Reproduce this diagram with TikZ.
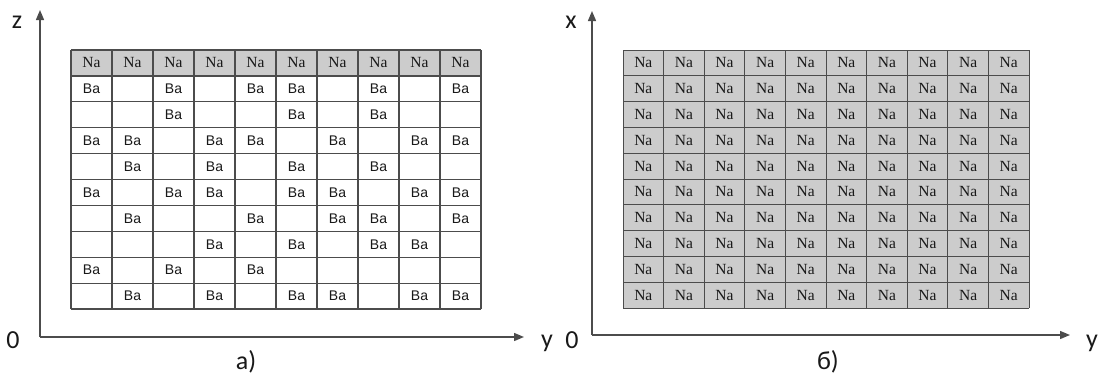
\documentclass[tikz,border=0pt]{standalone}
\usepackage{fontspec}
\setmainfont{Liberation Serif}
\newfontfamily\axfont{Carlito}
\newfontfamily\bafont{Liberation Sans}
\usetikzlibrary{arrows.meta}
\tikzset{
  axisline/.style={line width=1.4pt, draw=black!70, -{Triangle[length=10pt,width=8pt]}},
  axlabel/.style={font=\axfont\fontsize{26}{26}\selectfont, inner sep=0pt, text=black!90},
  natext/.style={font=\fontsize{15.5}{16}\selectfont, inner sep=0pt, text=black!90},
  batext/.style={font=\bafont\fontsize{14}{14}\selectfont, inner sep=0pt, text=black!90},
  gridline/.style={line width=1.2pt, draw=black!70},
  gridlineR/.style={line width=1pt, draw=black!70},
}
\begin{document}
\begin{tikzpicture}[x=1pt,y=-1pt]
\useasboundingbox (0,0) rectangle (1104,381);
\fill[white] (0,0) rectangle (1104,381);
% ---------- left panel ----------
\def\Lx{71}\def\Ly{50}\def\Lw{41}\def\Lh{25.9}
\fill[black!20] (\Lx,\Ly) rectangle ({\Lx+10*\Lw},{\Ly+\Lh});
\foreach \i in {0,...,10}{
  \draw[gridline] ({\Lx+\i*\Lw},\Ly) -- ({\Lx+\i*\Lw},{\Ly+10*\Lh});
  \draw[gridline] (\Lx,{\Ly+\i*\Lh}) -- ({\Lx+10*\Lw},{\Ly+\i*\Lh});
}
\foreach \c in {1,...,10}{
  \node[natext] (LN-\c) at ({\Lx+(\c-0.5)*\Lw},{\Ly+0.5*\Lh}) {Na};
}
\foreach \r/\cols in {1/{1,3,5,6,8,10},2/{3,6,8},3/{1,2,4,5,7,9,10},4/{2,4,6,8},5/{1,3,4,6,7,9,10},6/{2,5,7,8,10},7/{4,6,8,9},8/{1,3,5},9/{2,4,6,7,9,10}}{
  \foreach \c in \cols{
    \node[batext] (LB-\r-\c) at ({\Lx+(\c-0.5)*\Lw},{\Ly+(\r+0.5)*\Lh}) {Ba};
  }
}
\coordinate (LO) at (40,337);
\coordinate (LZ) at (40,10);
\coordinate (LY) at (524,337);
\draw[axisline] (LO) -- (LZ);
\draw[axisline] (LO) -- (LY);
\node[axlabel] (Lzl) at (17,22) {z};
\node[axlabel] (L0l) at (13,340) {0};
\node[axlabel] (Lyl) at (547,343) {y};
\node[axlabel] (Lcap) at (246,362) {а)};
% ---------- right panel ----------
\def\Rx{623}\def\Ry{50}\def\Rw{40.6}\def\Rh{25.8}
\fill[black!20] (\Rx,\Ry) rectangle ({\Rx+10*\Rw},{\Ry+10*\Rh});
\foreach \i in {0,...,10}{
  \draw[gridlineR] ({\Rx+\i*\Rw},\Ry) -- ({\Rx+\i*\Rw},{\Ry+10*\Rh});
  \draw[gridlineR] (\Rx,{\Ry+\i*\Rh}) -- ({\Rx+10*\Rw},{\Ry+\i*\Rh});
}
\foreach \r in {0,...,9}{
  \foreach \c in {1,...,10}{
    \node[natext] (RN-\r-\c) at ({\Rx+(\c-0.5)*\Rw},{\Ry+(\r+0.5)*\Rh}) {Na};
  }
}
\coordinate (RO) at (592,335);
\coordinate (RX) at (592,11);
\coordinate (RY) at (1070,335);
\draw[axisline] (RO) -- (RX);
\draw[axisline] (RO) -- (RY);
\node[axlabel] (Rxl) at (571,22) {x};
\node[axlabel] (R0l) at (572,340) {0};
\node[axlabel] (Ryl) at (1092,343) {y};
\node[axlabel] (Rcap) at (828,362) {б)};
\end{tikzpicture}
\end{document}
